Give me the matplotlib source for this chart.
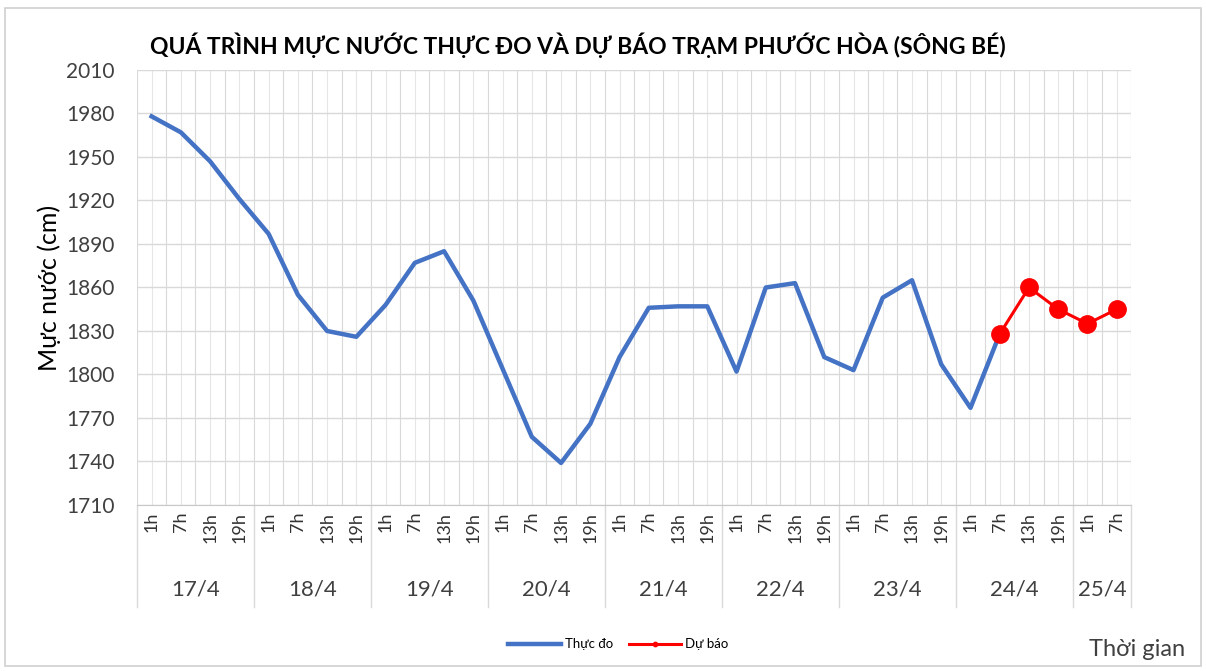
import matplotlib
matplotlib.use("Agg")
from matplotlib import pyplot as plt
from matplotlib.patches import Rectangle
import matplotlib.transforms as mtransforms

# dates and hours along the x axis
days = ["17/4", "18/4", "19/4", "20/4", "21/4", "22/4", "23/4", "24/4", "25/4"]
hours_per_day = [4, 4, 4, 4, 4, 4, 4, 4, 2]
hours = ["1h", "7h", "13h", "19h"]

# observed water level (cm), 17/4 1h .. 24/4 7h
observed = [1978, 1967, 1947, 1921, 1897, 1855, 1830, 1826,
            1848, 1877, 1885, 1851, 1804, 1757, 1739, 1766,
            1812, 1846, 1847, 1847, 1802, 1860, 1863, 1812,
            1803, 1853, 1865, 1807, 1777, 1828]
# forecast water level (cm), 24/4 7h .. 25/4 7h
forecast = [1828, 1860, 1845, 1835, 1845]

FONT = ["Lato", "Noto Sans", "DejaVu Sans"]
plt.rcParams["font.family"] = FONT


def main():
    labels = []
    for n in hours_per_day:
        labels += hours[:n]
    x_obs = list(range(len(observed)))
    x_fc = list(range(len(observed) - 1, len(observed) - 1 + len(forecast)))

    fig = plt.figure(figsize=(12.06, 6.71), dpi=100)
    fig.patches.append(Rectangle((0.004, 0.008), 0.992, 0.98, transform=fig.transFigure,
                                 fill=False, edgecolor="#d0d0d0", linewidth=1.2))
    ax = fig.add_axes([0.1136, 0.2474, 0.8245, 0.6483])

    ax.plot(x_obs, observed, color="#4472C4", linewidth=3.2, label="Thực đo", zorder=3)
    ax.plot(x_fc, forecast, color="#FF0000", linewidth=2.2, marker="o", markersize=12.5,
            label="Dự báo", zorder=4)

    ax.set_ylim(1710, 2010)
    ax.set_yticks(range(1710, 2011, 30))
    ax.set_xlim(-0.5, len(labels) - 0.5)
    ax.set_xticks(range(len(labels)))
    ax.set_xticklabels(labels, rotation=90, fontsize=13, color="#333333")
    ax.set_xticks([i - 0.5 for i in range(len(labels) + 1)], minor=True)
    ax.tick_params(axis="x", which="both", length=0, pad=5)
    ax.tick_params(axis="y", length=0, labelsize=15, colors="#404040", pad=16)

    ax.grid(axis="y", color="#d9d9d9", linewidth=1)
    ax.grid(axis="x", which="major", color="#e6e6e6", linewidth=0.8)
    ax.grid(axis="x", which="minor", color="#d9d9d9", linewidth=0.8)
    for s in ["top", "right", "left"]:
        ax.spines[s].set_visible(False)
    ax.spines["bottom"].set_color("#c8c8c8")

    # date group labels and separators below the hour labels
    trans = mtransforms.blended_transform_factory(ax.transData, ax.transAxes)
    start = -0.5
    ax.plot([start, start], [0, -0.235], transform=trans, color="#d9d9d9",
            linewidth=1, clip_on=False)
    for d, n in zip(days, hours_per_day):
        end = start + n
        ax.plot([end, end], [0, -0.235], transform=trans, color="#d9d9d9",
                linewidth=1, clip_on=False)
        ax.text((start + end) / 2, -0.195, d, transform=trans, ha="center", va="center",
                fontsize=16, color="#404040")
        start = end

    ax.set_ylabel("Mực nước (cm)", fontsize=18, color="#000000", labelpad=4)
    fig.text(0.479, 0.933, "QUÁ TRÌNH MỰC NƯỚC THỰC ĐO VÀ DỰ BÁO TRẠM PHƯỚC HÒA (SÔNG BÉ)",
             ha="center", va="center", fontsize=16.5, fontweight="bold", color="#000000")
    fig.text(0.983, 0.032, "Thời gian", ha="right", va="center", fontsize=17, color="#404040")

    ax.legend(loc="center", bbox_to_anchor=(0.484, -0.32), ncol=2, frameon=False,
              fontsize=9.5, handlelength=4, columnspacing=1.2, handletextpad=0.3,
              markerscale=0.25)

    fig.savefig("out.png", dpi=100)
    plt.close(fig)


if __name__ == "__main__":
    main()
